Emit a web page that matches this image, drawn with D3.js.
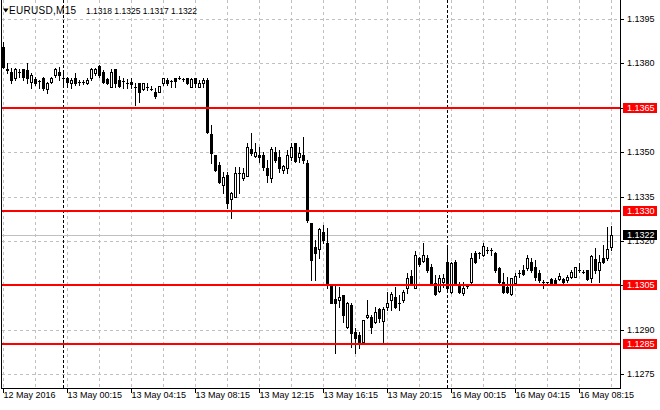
<!DOCTYPE html>
<html><head><meta charset="utf-8">
<script src="https://cdn.jsdelivr.net/npm/d3@7"></script>
<style>
html,body{margin:0;padding:0;background:#fff;}
svg{display:block;}
text{font-family:'Liberation Sans',Arial,sans-serif;font-size:9px;}
</style>
</head><body><svg id="c" width="660" height="410"></svg>
<script>
const symbol = "EURUSD,M15";
const sessions = [["2016-05-12 20:15","2016-05-13 23:45"],["2016-05-16 00:00","2016-05-16 10:15"]];

const open = [
1.13856,1.13780,1.13772,1.13750,1.13771,1.13780,1.13778,1.13738,1.13746,1.13742,
1.13750,1.13712,1.13738,1.13761,1.13772,1.13750,1.13750,1.13733,1.13750,1.13738,
1.13736,1.13733,1.13750,1.13767,1.13791,1.13772,1.13746,1.13721,1.13781,1.13744,
1.13740,1.13733,1.13738,1.13721,1.13733,1.13712,1.13721,1.13712,1.13704,1.13702,
1.13733,1.13744,1.13740,1.13750,1.13750,1.13747,1.13750,1.13721,1.13750,1.13721,
1.13733,1.13744,1.13561,1.13490,1.13457,1.13389,1.13423,1.13341,1.13349,1.13431,
1.13412,1.13419,1.13510,1.13487,1.13490,1.13490,1.13445,1.13412,1.13502,1.13485,
1.13440,1.13445,1.13485,1.13530,1.13485,1.13490,1.13462,1.13260,1.13180,1.13172,
1.13231,1.13192,1.13048,1.13003,1.13000,1.13017,1.12910,1.12983,1.12893,1.12882,
1.12859,1.12942,1.12944,1.12925,1.12970,1.12929,1.12978,1.13000,1.13011,1.12989,
1.13000,1.13040,1.13082,1.13040,1.13141,1.13132,1.13143,1.13113,1.13057,1.13031,
1.13060,1.13130,1.13028,1.13130,1.13051,1.13023,1.13048,1.13062,1.13160,1.13160,
1.13152,1.13169,1.13169,1.13160,1.13107,1.13062,1.13043,1.13021,1.13057,1.13091,
1.13102,1.13107,1.13130,1.13113,1.13091,1.13060,1.13060,1.13070,1.13068,1.13070,
1.13070,1.13068,1.13079,1.13079,1.13102,1.13096,1.13102,1.13074,1.13138,1.13102,
1.13141,1.13141,1.13180];

const high = [
1.13873,1.13800,1.13783,1.13785,1.13780,1.13780,1.13802,1.13767,1.13755,1.13744,
1.13755,1.13738,1.13755,1.13783,1.13789,1.13767,1.13755,1.13750,1.13767,1.13744,
1.13744,1.13750,1.13783,1.13783,1.13795,1.13778,1.13751,1.13781,1.13781,1.13758,
1.13750,1.13747,1.13750,1.13733,1.13733,1.13733,1.13733,1.13724,1.13716,1.13724,
1.13752,1.13750,1.13744,1.13750,1.13758,1.13752,1.13752,1.13750,1.13750,1.13744,
1.13750,1.13750,1.13592,1.13490,1.13468,1.13434,1.13434,1.13366,1.13451,1.13451,
1.13445,1.13530,1.13564,1.13530,1.13518,1.13502,1.13473,1.13518,1.13518,1.13507,
1.13457,1.13507,1.13530,1.13530,1.13518,1.13552,1.13473,1.13260,1.13203,1.13243,
1.13254,1.13243,1.13051,1.13051,1.13045,1.13017,1.12995,1.12989,1.12905,1.12893,
1.12933,1.13000,1.12950,1.12978,1.12972,1.12978,1.13028,1.13028,1.13045,1.13017,
1.13034,1.13091,1.13102,1.13166,1.13147,1.13192,1.13152,1.13121,1.13085,1.13085,
1.13087,1.13176,1.13130,1.13135,1.13062,1.13062,1.13054,1.13158,1.13167,1.13164,
1.13192,1.13180,1.13175,1.13164,1.13113,1.13091,1.13079,1.13074,1.13091,1.13102,
1.13119,1.13152,1.13141,1.13135,1.13102,1.13068,1.13062,1.13074,1.13074,1.13091,
1.13074,1.13085,1.13102,1.13113,1.13124,1.13102,1.13102,1.13152,1.13175,1.13152,
1.13186,1.13248,1.13250];

const low = [
1.13784,1.13767,1.13733,1.13744,1.13755,1.13744,1.13733,1.13716,1.13727,1.13716,
1.13710,1.13699,1.13733,1.13755,1.13744,1.13721,1.13721,1.13716,1.13727,1.13727,
1.13730,1.13730,1.13744,1.13761,1.13755,1.13733,1.13729,1.13721,1.13721,1.13721,
1.13716,1.13716,1.13716,1.13659,1.13671,1.13710,1.13710,1.13710,1.13682,1.13702,
1.13727,1.13727,1.13721,1.13721,1.13747,1.13740,1.13729,1.13721,1.13721,1.13721,
1.13721,1.13565,1.13463,1.13436,1.13395,1.13361,1.13310,1.13276,1.13349,1.13361,
1.13406,1.13419,1.13490,1.13485,1.13468,1.13440,1.13400,1.13400,1.13468,1.13434,
1.13429,1.13429,1.13473,1.13468,1.13468,1.13462,1.13264,1.13068,1.13068,1.13141,
1.13192,1.13040,1.12989,1.12820,1.12978,1.12927,1.12905,1.12842,1.12820,1.12837,
1.12854,1.12938,1.12888,1.12922,1.12927,1.12859,1.12966,1.12966,1.12972,1.12966,
1.12995,1.13023,1.13051,1.13040,1.13116,1.13130,1.13096,1.13051,1.13017,1.13028,
1.13045,1.13028,1.13023,1.13051,1.13023,1.13017,1.13041,1.13057,1.13124,1.13141,
1.13149,1.13160,1.13152,1.13096,1.13057,1.13023,1.13023,1.13017,1.13057,1.13079,
1.13085,1.13102,1.13096,1.13068,1.13062,1.13040,1.13051,1.13057,1.13057,1.13068,
1.13059,1.13062,1.13074,1.13077,1.13096,1.13093,1.13068,1.13062,1.13091,1.13062,
1.13124,1.13135,1.13170];

const close = [
1.13789,1.13779,1.13744,1.13780,1.13771,1.13755,1.13750,1.13761,1.13733,1.13742,
1.13716,1.13735,1.13750,1.13780,1.13761,1.13750,1.13738,1.13744,1.13733,1.13738,
1.13736,1.13744,1.13780,1.13780,1.13761,1.13738,1.13733,1.13772,1.13733,1.13722,
1.13740,1.13733,1.13729,1.13721,1.13704,1.13733,1.13721,1.13712,1.13691,1.13724,
1.13750,1.13733,1.13740,1.13740,1.13750,1.13747,1.13733,1.13747,1.13733,1.13735,
1.13744,1.13569,1.13497,1.13440,1.13400,1.13417,1.13327,1.13361,1.13431,1.13431,
1.13431,1.13518,1.13496,1.13502,1.13483,1.13451,1.13423,1.13510,1.13473,1.13445,
1.13453,1.13490,1.13518,1.13469,1.13498,1.13473,1.13271,1.13135,1.13160,1.13239,
1.13203,1.13059,1.12990,1.12989,1.13011,1.12950,1.12989,1.12888,1.12871,1.12859,
1.12933,1.12950,1.12910,1.12959,1.12938,1.12970,1.12989,1.13020,1.12978,1.12989,
1.13028,1.13074,1.13057,1.13152,1.13121,1.13152,1.13102,1.13053,1.13020,1.13074,
1.13074,1.13040,1.13124,1.13057,1.13028,1.13040,1.13048,1.13141,1.13130,1.13160,
1.13183,1.13169,1.13169,1.13102,1.13062,1.13028,1.13028,1.13074,1.13081,1.13091,
1.13088,1.13141,1.13102,1.13079,1.13068,1.13060,1.13060,1.13059,1.13059,1.13081,
1.13062,1.13079,1.13096,1.13113,1.13102,1.13096,1.13070,1.13149,1.13102,1.13130,
1.13130,1.13172,1.13220];

const priceTicks = [1.1275,1.1290,1.1305,1.1320,1.1335,1.1350,1.1365,1.1380,1.1395];
const levels = [1.1365,1.1330,1.1305,1.1285];
const timeTickLabels = ["12 May 2016","13 May 00:15","13 May 04:15","13 May 08:15","13 May 12:15",
  "13 May 16:15","13 May 20:15","16 May 00:15","16 May 04:15","16 May 08:15"];

// ---- layout ----
const R = 620, B = 388;
const svg = d3.select("#c");
svg.append("rect").attr("width",660).attr("height",410).attr("fill","#fff");

const parse = d3.timeParse("%Y-%m-%d %H:%M");
const times = sessions.flatMap(([a,b]) => d3.timeMinute.every(15).range(parse(a), d3.timeMinute.offset(parse(b),1)));
const n = open.length;
const idx = d3.range(n);
const fmtT = d3.timeFormat("%d %b %H:%M"), fmtD = d3.timeFormat("%d %b %Y");
const tickIdx = timeTickLabels.map(l => times.findIndex(t => fmtT(t) === l || fmtD(t) === l));

const x = d3.scalePoint().domain(idx).range([3, 611]);
const y = d3.scaleLinear().domain([1.1275, 1.1395]).range([374, 19]);
const yr = y.copy().interpolate(d3.interpolateRound);
const cx = i => x(i) + 0.5;
const py = v => yr(v) + 0.5;

const gGrid = svg.append("g").attr("shape-rendering","crispEdges");
gGrid.selectAll(".hg").data(priceTicks).join("line")
  .attr("x1",2).attr("x2",R).attr("y1",py).attr("y2",py)
  .attr("stroke","#c0c0c0").attr("stroke-dasharray","3,3");
gGrid.selectAll(".vg").data(d3.range(0, n, 8)).join("line")
  .attr("x1",cx).attr("x2",cx).attr("y1",0).attr("y2",B)
  .attr("stroke","#c0c0c0").attr("stroke-dasharray","3,3");
const seps = idx.filter(i => times[i].getHours() === 0 && times[i].getMinutes() === 0);
gGrid.selectAll(".sep").data(seps).join("line")
  .attr("x1",cx).attr("x2",cx).attr("y1",0).attr("y2",B)
  .attr("stroke","#000").attr("stroke-dasharray","3,2");

const last = n - 1;
gGrid.append("line").attr("x1",2).attr("x2",R).attr("y1",py(close[last])).attr("y2",py(close[last]))
  .attr("stroke","#c0c0c0");

// candles
const gC = svg.append("g").attr("shape-rendering","crispEdges");
idx.forEach(i => {
  const c = cx(i);
  gC.append("line").attr("x1",c).attr("x2",c)
    .attr("y1", yr(high[i])).attr("y2", yr(low[i]) + 1).attr("stroke","#000");
  const top = yr(Math.max(open[i], close[i])), bot = yr(Math.min(open[i], close[i]));
  if (close[i] > open[i] && bot - top >= 2) {
    gC.append("rect").attr("x", c - 1).attr("y", top + 0.5).attr("width", 2).attr("height", bot - top)
      .attr("fill","#fff").attr("stroke","#000");
  } else {
    gC.append("rect").attr("x", c - 1.5).attr("y", top).attr("width", 3).attr("height", bot - top + 1)
      .attr("fill","#000");
  }
});

// red levels
const gL = svg.append("g").attr("shape-rendering","crispEdges");
gL.selectAll("line").data(levels).join("line")
  .attr("x1",2).attr("x2",R).attr("y1",d => yr(d)).attr("y2",d => yr(d))
  .attr("stroke","#ff0000").attr("stroke-width",2);

// frame
svg.append("path").attr("d",`M1.5,0V${B+0.5}H${R+0.5}V0`).attr("fill","none")
  .attr("stroke","#000").attr("shape-rendering","crispEdges");

// y axis (the 1.1320 label sits partly under the bid box, as in the reference)
const yAxis = svg.append("g").attr("transform",`translate(${R},0)`)
  .call(d3.axisRight(yr).tickValues(priceTicks).tickFormat(d3.format(".4f")).tickSize(4).tickPadding(3));
yAxis.select(".domain").remove();
yAxis.selectAll("text").attr("font-family",null).attr("font-size",null).attr("x",7).attr("fill","#000");
yAxis.selectAll("line").attr("shape-rendering","crispEdges");

// x axis
const xAxis = svg.append("g").attr("transform",`translate(0,${B})`)
  .call(d3.axisBottom(x).tickValues(tickIdx).tickFormat((d,k) => timeTickLabels[k]).tickSize(5));
xAxis.select(".domain").remove();
xAxis.selectAll("text").attr("font-family",null).attr("font-size",null)
  .attr("text-anchor","start").attr("x",0).attr("y",9.5).attr("dy",null).attr("fill","#000");
xAxis.selectAll("line").attr("shape-rendering","crispEdges");

// level labels
const gLab = svg.append("g");
levels.forEach(v => {
  const yy = yr(v);
  gLab.append("rect").attr("x",623).attr("y",yy-5).attr("width",34).attr("height",10).attr("fill","#ff0000");
  gLab.append("text").attr("x",627).attr("y",yy).attr("dy","0.34em").attr("fill","#fff").text(d3.format(".4f")(v));
});
const by = yr(close[last]);
gLab.append("rect").attr("x",623).attr("y",by-5).attr("width",34).attr("height",10).attr("fill","#000");
gLab.append("text").attr("x",627).attr("y",by).attr("dy","0.34em").attr("fill","#fff").text(d3.format(".4f")(close[last]));

// header
svg.append("path").attr("d","M3,8.5H8.5L5.75,12.5Z").attr("fill","#000");
const f4 = d3.format(".4f");
svg.append("text").attr("x",9).attr("y",14).attr("fill","#000")
  .style("font-size","10px").style("letter-spacing","0.3px").text(symbol);
svg.append("text").attr("x",86).attr("y",14).attr("fill","#000")
  .style("font-size","8.5px")
  .text(`${f4(open[last])} ${f4(high[last])} ${f4(low[last])} ${f4(close[last])}`);
</script>
</body></html>
